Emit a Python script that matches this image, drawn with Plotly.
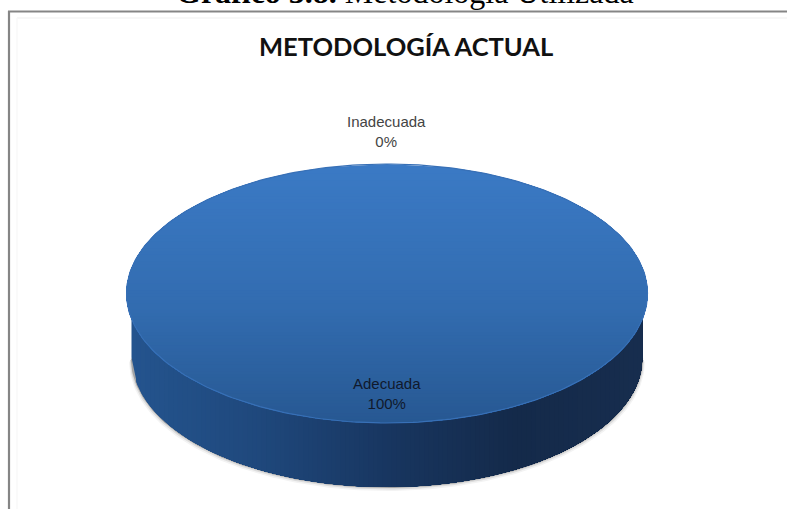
import numpy as np
import plotly.graph_objects as go

categories = ["Adecuada", "Inadecuada"]
values = [100, 0]
chart_title = "METODOLOGÍA ACTUAL"
header_bold = "Gráfico 3.8."
header_rest = " Metodología Utilizada"

W, H = 787, 509
cx, cy, rx, ry, depth = 387, 293.5, 260.5, 129.5, 64
side_inset = 5


def lerp(a, b, t):
    return "rgb(%d,%d,%d)" % tuple(round(a[i] + (b[i] - a[i]) * t) for i in range(3))


fig = go.Figure()


def band(xs, ys, color):
    fig.add_trace(go.Scatter(x=xs, y=ys, mode="lines", fill="toself", fillcolor=color,
                             line=dict(width=0, color=color), hoverinfo="skip", showlegend=False))


# soft shadow beneath the wall
for grow, col in [(4, "#f3f3f3"), (2.5, "#dcdcdc"), (1, "#a5a5a5")]:
    t = np.linspace(0, np.pi, 160)
    xs = cx + (rx - side_inset + grow * 0.6) * np.cos(t)
    ys = cy + depth + grow + ry * np.sin(t)
    band(list(xs), list(ys), col)

# wall: painted left to right, each band reaching to the right end, so no seams
wall_stops = [(0.0, (36, 84, 142)), (0.25, (31, 72, 124)), (0.5, (24, 54, 96)), (0.75, (20, 42, 74)), (1.0, (23, 45, 78))]
n = 110
edges = np.linspace(-1, 1, n + 1)
for i in range(n):
    a = edges[i]
    sub = np.linspace(a, 1, 90)
    top = cy + ry * np.sqrt(np.clip(1 - sub ** 2, 0, 1))
    bot = top + depth
    xs = cx + sub * (rx - side_inset)
    f = (a + 1) / 2 + 1 / (2 * n)
    for j in range(len(wall_stops) - 1):
        if wall_stops[j][0] <= f <= wall_stops[j + 1][0]:
            s0, c0 = wall_stops[j]
            s1, c1 = wall_stops[j + 1]
            col = lerp(c0, c1, (f - s0) / (s1 - s0))
            break
    band(list(xs) + list(xs[::-1]), list(top) + list(bot[::-1]), col)

# top face: one wedge per category with a non-zero sweep, shaded top to bottom,
# each band reaching to the bottom of the ellipse, so no seams
total = sum(values)
top_c, mid_c, bot_c = (59, 122, 197), (50, 108, 176), (39, 88, 146)
for cat, v in zip(categories, values):
    sweep = 2 * np.pi * v / total
    if sweep > 0:
        m = 80
        ylev = np.linspace(-1, 1, m + 1)
        for k in range(m):
            y0 = ylev[k]
            sub = np.linspace(y0, 1, 90)
            half = np.sqrt(np.clip(1 - sub ** 2, 0, 1))
            xs = list(cx - rx * half) + list(cx + rx * half[::-1])
            ys = list(cy + ry * sub) + list(cy + ry * sub[::-1])
            f = (y0 + 1) / 2 + 1 / (2 * m)
            col = lerp(top_c, mid_c, f / 0.55) if f < 0.55 else lerp(mid_c, bot_c, (f - 0.55) / 0.45)
            band(xs, ys, col)

# lighter rim along the top face
t = np.linspace(0, 2 * np.pi, 300)
fig.add_trace(go.Scatter(x=cx + rx * np.cos(t), y=cy + ry * np.sin(t), mode="lines",
                         line=dict(width=1.2, color="rgb(56,112,182)"), hoverinfo="skip", showlegend=False))

FRAME = "#858585"
fig.update_layout(
    width=W, height=H, autosize=False,
    margin=dict(l=0, r=0, t=0, b=0),
    paper_bgcolor="white", plot_bgcolor="white",
    xaxis=dict(range=[0, W], visible=False, fixedrange=True),
    yaxis=dict(range=[H, 0], visible=False, fixedrange=True),
    shapes=[
        dict(type="line", xref="x", yref="y", x0=17, x1=W, y0=18, y1=18, line=dict(color="#f5f5f5", width=1.5)),
        dict(type="line", xref="x", yref="y", x0=17, x1=17, y0=18, y1=H, line=dict(color="#f8f8f8", width=1.5)),
        dict(type="line", xref="x", yref="y", x0=8, x1=W, y0=11.5, y1=11.5, line=dict(color=FRAME, width=2.2)),
        dict(type="line", xref="x", yref="y", x0=9, x1=9, y0=11, y1=H, line=dict(color=FRAME, width=2.2)),
    ],
    annotations=[
        dict(x=405, y=11, xref="x", yref="y", showarrow=False, yanchor="bottom", borderpad=0,
             text=f"<b>{header_bold}</b>{header_rest}",
             font=dict(family="Liberation Serif", size=32, color="black")),
        dict(x=406, y=46, xref="x", yref="y", showarrow=False,
             text=f"<b>{chart_title}</b>",
             font=dict(family="Lato", size=25.5, color="#111111")),
        dict(x=386, y=131, xref="x", yref="y", showarrow=False,
             text=f"{categories[1]}<br>{values[1] * 100 // total}%",
             font=dict(family="Liberation Sans", size=15, color="#444444")),
        dict(x=387, y=393, xref="x", yref="y", showarrow=False,
             text=f"{categories[0]}<br>{values[0] * 100 // total}%",
             font=dict(family="Liberation Sans", size=15, color="#10192c")),
    ],
)

fig.write_html("out.html", config={"displayModeBar": False},
               post_script="document.body.style.margin='0';document.body.style.overflow='hidden';")
